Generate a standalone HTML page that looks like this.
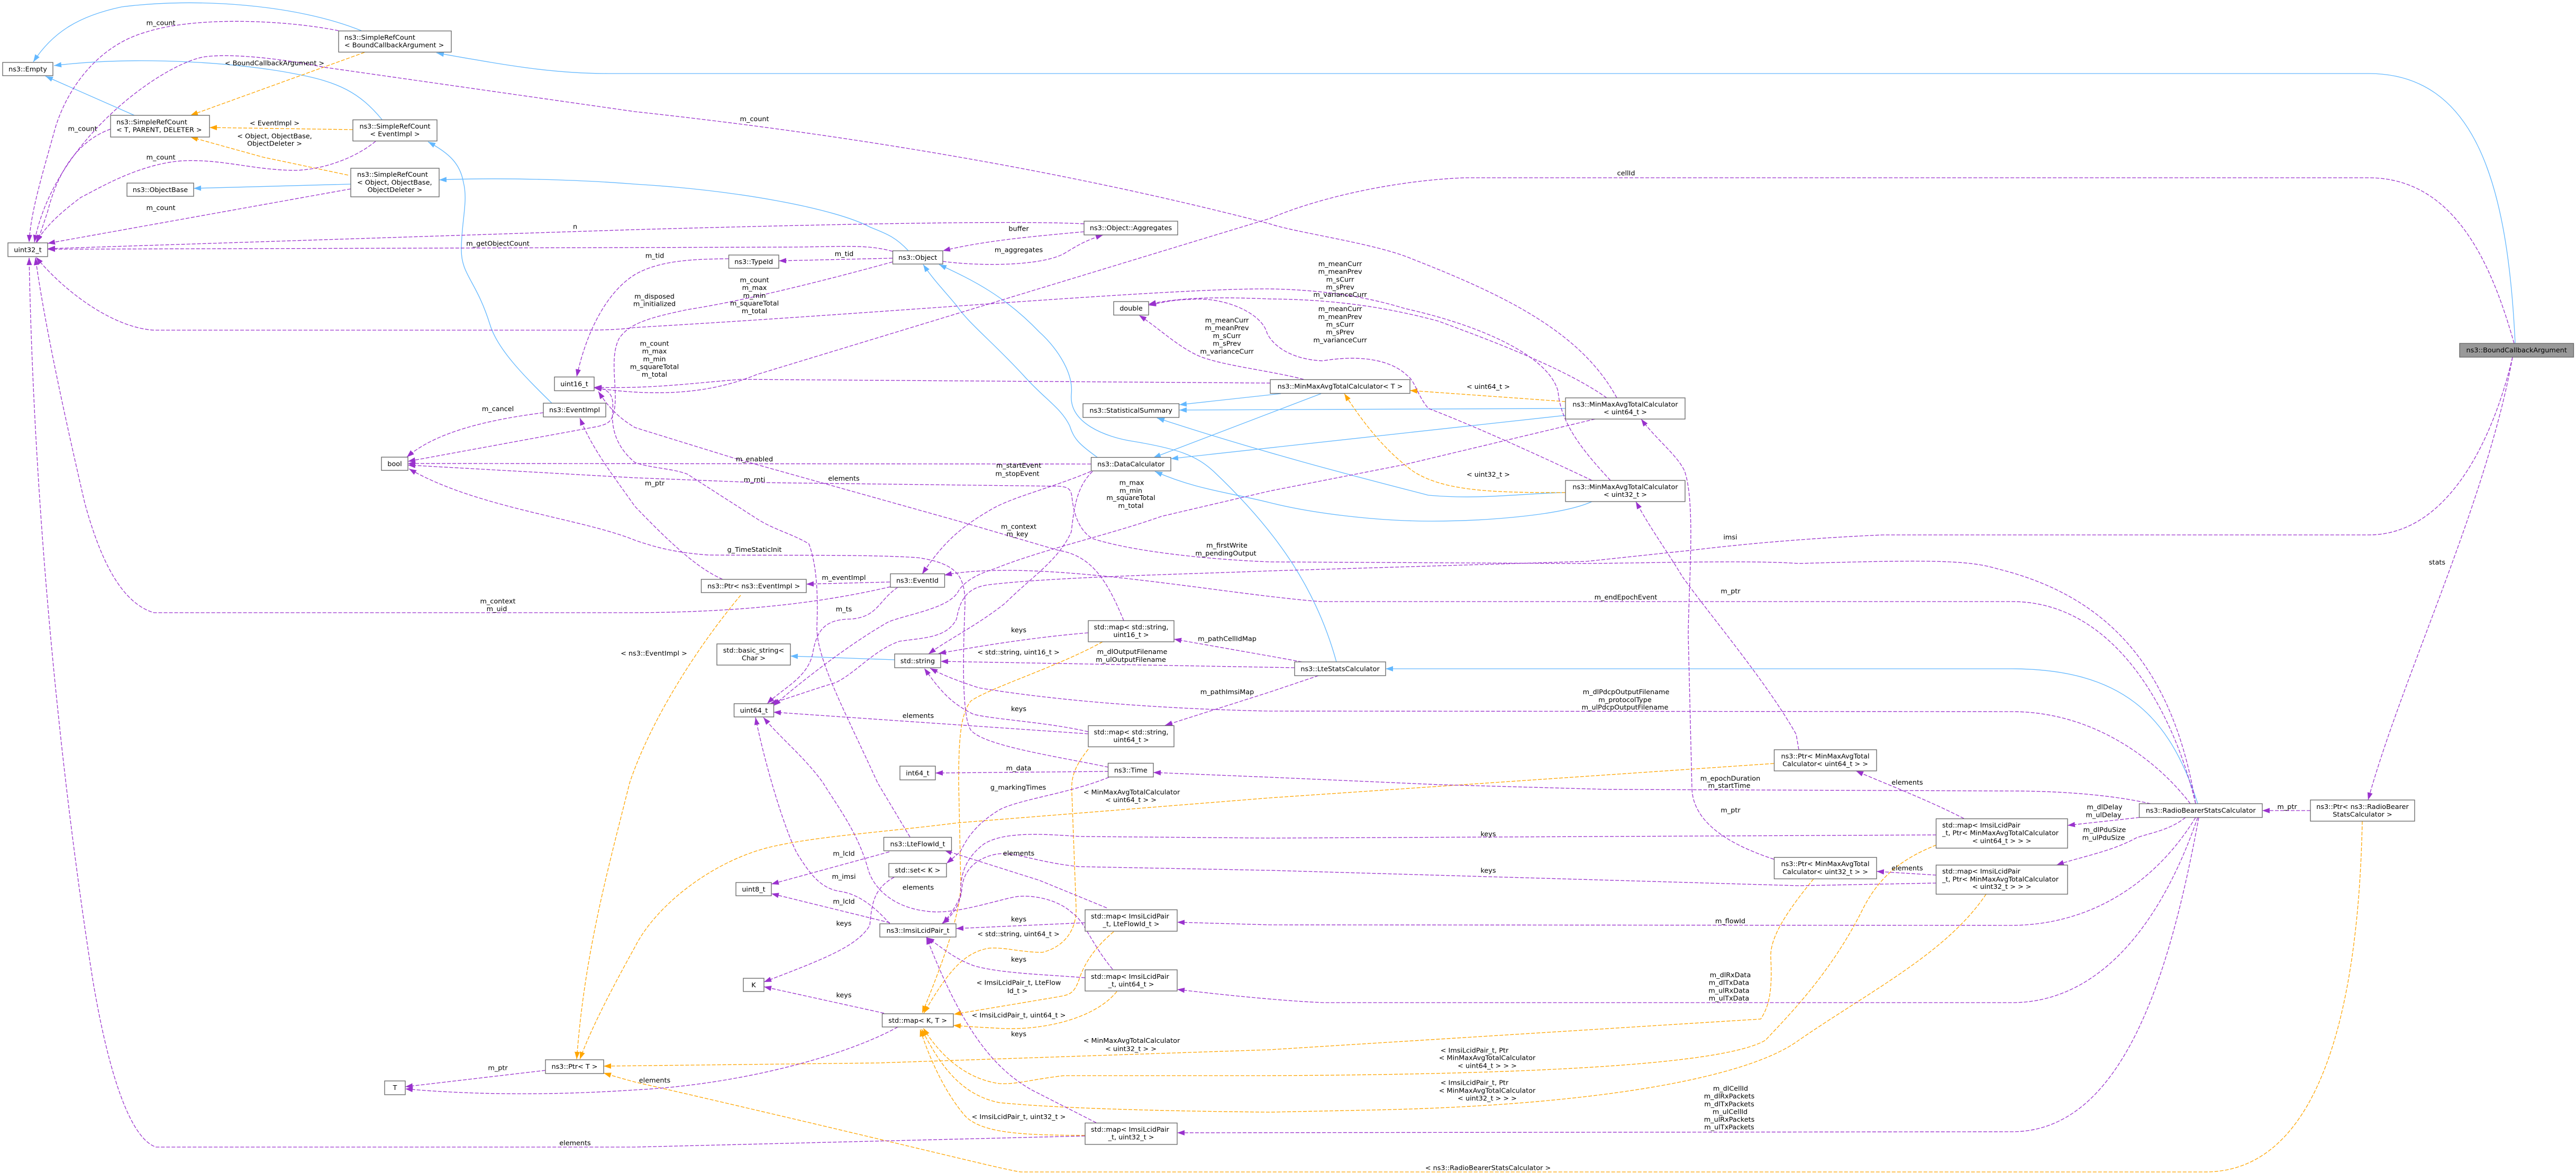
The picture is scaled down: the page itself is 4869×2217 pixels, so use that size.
<!DOCTYPE html>
<html><head><meta charset="utf-8"><title>ns3::BoundCallbackArgument</title>
<style>
html,body{margin:0;padding:0;background:#fff}
svg{display:block}
text{font-family:"DejaVu Sans","Liberation Sans",sans-serif;font-size:12.8px;fill:#000}
rect{fill:#fff;stroke:#666;stroke-width:1.33}
</style></head><body>
<svg xmlns="http://www.w3.org/2000/svg" width="4869" height="2217" viewBox="0 0 4869 2217">
<defs>
<marker id="mb" markerUnits="userSpaceOnUse" markerWidth="15" markerHeight="11" refX="14" refY="5" orient="auto"><path d="M0,0L14,5L0,10z" fill="#63b8ff"/></marker>
<marker id="mp" markerUnits="userSpaceOnUse" markerWidth="15" markerHeight="11" refX="14" refY="5" orient="auto"><path d="M0,0L14,5L0,10z" fill="#9a32cd"/></marker>
<marker id="mo" markerUnits="userSpaceOnUse" markerWidth="15" markerHeight="11" refX="14" refY="5" orient="auto"><path d="M0,0L14,5L0,10z" fill="#ffa500"/></marker>
</defs>
<rect x="0" y="0" width="4869" height="2217" style="fill:#fff;stroke:none"/>

<g fill="none" stroke="#63b8ff" stroke-width="1.33" marker-end="url(#mb)">
<path d="M4754,649C4740,350 4680,139 4477,139L1150,139C1040,139 950,122 825,100"/>
<path d="M683,58C560,8 370,-5 230,13C150,30 100,60 63,117"/>
<path d="M722,226C680,175 640,155 560,140C450,118 260,105 102,124"/>
<path d="M254,218L86,144"/>
<path d="M1043,762C990,710 940,660 926,613C900,530 872,520 872,472C872,420 885,380 876,345C870,310 850,290 809,268"/>
<path d="M1717,474C1690,445 1670,440 1644,429C1580,395 1400,360 1200,348C1100,340 950,335 830,340"/>
<path d="M663,348L366,356"/>
<path d="M2075,865C2040,840 2030,830 2022,805C2005,770 1975,755 1935,710C1880,650 1830,610 1810,580C1790,555 1765,530 1745,500"/>
<path d="M2526,1251C2490,1120 2420,1010 2294,891C2260,860 2225,848 2141,834C2090,826 2020,800 2025,745C2030,700 1990,650 1965,628C1900,560 1840,530 1775,500"/>
<path d="M2421,744L2229,765"/>
<path d="M2497,744L2180,865"/>
<path d="M2959,772L2229,775"/>
<path d="M2959,785L2213,867"/>
<path d="M2959,931C2880,932 2800,945 2700,936C2600,910 2400,860 2187,790"/>
<path d="M3009,948C2950,975 2800,985 2706,985C2600,985 2480,970 2400,950C2320,930 2260,925 2183,891"/>
<path d="M1691,1247L1494,1240"/>
<path d="M4154,1519C4100,1350 4010,1264 3800,1264L2619,1264"/>
</g>

<g fill="none" stroke="#ffa500" stroke-width="1.33" stroke-dasharray="7 3" marker-end="url(#mo)">
<path d="M689,99L360,218"/>
<path d="M667,245L396,241"/>
<path d="M658,331L497,297L360,259"/>
<path d="M2959,759L2665,738"/>
<path d="M2959,931C2830,931 2730,930 2670,890C2630,860 2590,820 2541,744"/>
<path d="M1400,1125C1320,1220 1230,1360 1190,1480C1150,1640 1105,1800 1090,2002"/>
<path d="M3353,1443L2400,1508L1812,1555C1650,1575 1550,1580 1460,1600C1350,1625 1240,1710 1200,1790C1150,1880 1115,1950 1096,2002"/>
<path d="M3428,1661C3380,1720 3345,1770 3347,1810C3350,1870 3345,1900 3328,1926L2400,1984L1660,2009L1141,2015"/>
<path d="M3660,1597C3590,1625 3550,1660 3520,1720C3460,1840 3380,1920 3337,1966C3280,2000 3050,2030 2400,2033L2011,2033C1950,2040 1920,2050 1889,2048C1830,2040 1780,2000 1745,1943"/>
<path d="M3754,1690C3680,1800 3540,1870 3400,1966C3300,2040 3000,2090 2591,2098L2400,2102C2200,2100 2000,2095 1889,2084C1820,2070 1780,2020 1742,1945"/>
<path d="M2051,2146C1950,2145 1860,2145 1825,2110C1790,2070 1760,2010 1739,1945"/>
<path d="M2084,1213C2000,1260 1870,1300 1835,1325C1815,1350 1812,1400 1812,1480L1816,1669C1816,1720 1790,1800 1743,1915"/>
<path d="M2057,1416C2030,1450 2024,1470 2026,1500L2034,1716C2035,1760 2010,1790 1970,1800C1930,1800 1900,1790 1870,1792C1820,1800 1790,1840 1746,1915"/>
<path d="M2105,1761C2070,1790 2050,1820 2040,1850C2030,1880 2020,1880 2000,1884L1803,1917"/>
<path d="M2111,1874C2070,1925 1970,1950 1880,1943Q1840,1941 1802,1938"/>
<path d="M4465,1552C4460,1800 4420,2215 4168,2215L1930,2215C1900,2212 1700,2160 1200,2045Q1170,2037 1141,2028"/>
</g>

<g fill="none" stroke="#9a32cd" stroke-width="1.33" stroke-dasharray="7 3" marker-end="url(#mp)">
<path d="M640,58C540,38 370,30 275,61C190,85 130,160 105,240C80,330 58,400 55,458"/>
<path d="M3056,752C2990,630 2850,560 2668,489C2600,460 2450,440 2400,423C2100,345 1700,265 1200,211L612,127C530,110 430,100 383,108C300,125 100,270 65,458"/>
<path d="M209,244C150,265 110,320 90,400C80,430 75,445 70,458"/>
<path d="M710,267C670,300 610,320 560,322C480,322 420,300 344,304C260,310 180,360 153,373C110,405 85,430 68,458"/>
<path d="M663,357L90,460"/>
<path d="M2049,423C1950,418 1700,420 1200,434L90,470"/>
<path d="M1687,475C1640,462 1600,466 1500,467L90,471"/>
<path d="M1687,488L1472,493"/>
<path d="M1377,489C1320,490 1250,490 1200,519C1150,550 1110,620 1090,712"/>
<path d="M1782,494C1840,502 1960,505 2010,480C2035,465 2050,455 2085,444"/>
<path d="M2049,438C1950,447 1860,455 1782,474"/>
<path d="M1687,495C1560,530 1400,570 1300,585C1230,600 1190,610 1170,640C1150,680 1170,740 1160,780C1155,800 1145,802 1130,806L771,872"/>
<path d="M3044,908C2990,850 2950,800 2945,740C2930,680 2820,620 2655,583C2580,560 2500,548 2400,546C2200,545 1700,590 1200,619C1180,622 1150,624 1100,624L291,624C220,620 130,560 68,486"/>
<path d="M3037,752C2950,690 2780,630 2719,607C2600,575 2500,566 2400,565C2320,562 2240,560 2171,575"/>
<path d="M3009,908C2950,880 2800,810 2700,772C2680,750 2675,720 2660,710C2630,680 2570,670 2500,682C2450,680 2410,660 2395,630C2385,590 2310,560 2250,566C2220,566 2195,572 2171,577"/>
<path d="M2464,717C2400,700 2300,690 2260,670C2220,650 2190,620 2153,596"/>
<path d="M2401,724L1400,717C1300,725 1230,735 1123,732"/>
<path d="M3015,792L2655,878L2400,928L2195,976C2100,1010 1965,1040 1880,1075C1830,1090 1815,1110 1810,1120C1790,1150 1720,1160 1680,1175C1600,1220 1500,1300 1462,1334"/>
<path d="M4752,649C4710,500 4640,336 4477,336L2770,336C2650,340 2500,370 2400,413L1430,708C1340,745 1240,750 1123,733"/>
<path d="M4749,675C4720,800 4640,1011 4477,1011L3559,1011C3400,1018 3280,1030 3197,1040L2999,1061L2400,1079C2250,1085 2000,1090 1870,1105C1830,1110 1815,1130 1808,1170C1790,1205 1750,1205 1700,1212C1650,1230 1620,1270 1580,1290C1530,1305 1490,1320 1455,1330"/>
<path d="M4749,675C4700,950 4540,1280 4476,1512"/>
<path d="M1697,1110C1660,1135 1660,1165 1610,1170C1560,1170 1545,1190 1537,1230C1530,1280 1480,1300 1450,1330"/>
<path d="M4367,1532L4276,1532"/>
<path d="M4044,1545L3908,1560"/>
<path d="M4131,1545C4100,1570 4060,1575 4037,1584C3990,1610 3930,1620 3887,1635"/>
<path d="M3712,1547C3640,1510 3560,1480 3508,1457"/>
<path d="M3660,1654L3547,1647"/>
<path d="M3660,1578L2400,1584L2042,1581C1980,1577 1900,1570 1860,1595C1820,1625 1815,1660 1816,1690C1810,1710 1795,1730 1782,1746"/>
<path d="M3660,1669L3400,1674L2400,1645L2040,1638C1960,1630 1920,1610 1885,1614C1840,1622 1820,1650 1818,1680C1815,1715 1795,1735 1780,1746"/>
<path d="M4150,1545C4080,1660 3960,1749 3800,1749L2400,1748L2225,1743"/>
<path d="M4154,1545C4080,1760 3960,1895 3803,1895L2502,1895C2450,1893 2350,1885 2225,1870"/>
<path d="M4156,1545C4100,1850 4010,2139 3803,2139L2225,2141"/>
<path d="M2072,2122L1950,2060C1880,2020 1820,1950 1751,1771"/>
<path d="M2051,2147L1200,2168L295,2168C240,2150 200,2000 175,1850C120,1500 65,1000 55,487"/>
<path d="M1683,1109C1550,1140 1400,1157 1200,1158L291,1158C230,1140 190,1060 160,950C130,820 85,620 67,487"/>
<path d="M2095,1450C2000,1430 1860,1410 1835,1380C1815,1350 1822,1200 1824,1141C1824,1090 1810,1065 1735,1054C1650,1048 1500,1050 1340,1049C1280,1045 1240,1035 1200,1021C1100,980 900,960 773,886"/>
<path d="M2062,877L771,876"/>
<path d="M4150,1519C4110,1280 4000,1130 3775,1075C3720,1058 3640,1058 3400,1065C3300,1058 3100,1065 2974,1065L2400,1062C2300,1058 2150,1045 2065,1018C2035,1000 2028,960 2026,938C2024,925 2020,920 2000,919L1430,912L1200,903L771,879"/>
<path d="M1720,1582L1659,1480C1600,1350 1545,1250 1544,1188C1545,1150 1548,1080 1529,1028C1500,1010 1460,1000 1430,980L1299,896C1270,885 1230,885 1200,874C1165,845 1155,810 1158,775C1160,750 1155,735 1123,732"/>
<path d="M2124,1173C2090,1090 2060,1050 2000,1040L1812,985L1391,867L1200,808C1170,790 1150,770 1131,740"/>
<path d="M1682,1746C1650,1710 1620,1690 1590,1685C1550,1680 1530,1650 1506,1612C1480,1560 1445,1440 1428,1356"/>
<path d="M2103,1832C2060,1780 2050,1740 2026,1725C2000,1700 1950,1690 1919,1695C1870,1705 1800,1730 1750,1722C1690,1715 1650,1680 1640,1640C1620,1570 1580,1520 1556,1480C1520,1430 1480,1400 1443,1356"/>
<path d="M1681,1610L1458,1671"/>
<path d="M1682,1744L1458,1689"/>
<path d="M1690,1658C1650,1680 1648,1710 1644,1749C1620,1790 1550,1815 1444,1856"/>
<path d="M1671,1915L1444,1865"/>
<path d="M1697,1941C1600,1995 1400,2050 1200,2060C1050,2070 900,2070 766,2058"/>
<path d="M1031,2023L766,2054"/>
<path d="M2096,1469C2020,1500 1930,1510 1890,1530C1840,1560 1825,1590 1815,1610L1789,1632"/>
<path d="M2095,1458L1768,1461"/>
<path d="M4065,1519C3980,1500 3880,1495 3800,1495L3038,1492L2719,1483L2400,1469L2180,1460"/>
<path d="M4150,1519C4110,1350 4000,1137 3803,1137L2496,1137C2340,1125 2100,1080 1912,1078C1860,1078 1820,1080 1785,1087"/>
<path d="M2062,891C1980,925 1910,940 1870,965C1810,1000 1780,1030 1743,1085"/>
<path d="M2065,891C2035,920 2030,960 2025,1005C2000,1060 1950,1090 1900,1140C1850,1180 1790,1210 1755,1236"/>
<path d="M2057,1196C1950,1205 1860,1220 1774,1235"/>
<path d="M2447,1262L1778,1250"/>
<path d="M2461,1251L2400,1240L2219,1208"/>
<path d="M2492,1277L2400,1308L2202,1371"/>
<path d="M4140,1519C4080,1440 3960,1345 3803,1345L2400,1344C2200,1340 2000,1325 1850,1300C1820,1290 1790,1280 1758,1263"/>
<path d="M2057,1383C1980,1365 1880,1360 1840,1350C1800,1330 1780,1310 1747,1263"/>
<path d="M2057,1387L1462,1346"/>
<path d="M1366,1095C1320,1075 1270,1030 1200,957C1160,900 1120,850 1096,790"/>
<path d="M1027,780C950,790 830,810 769,864"/>
<path d="M1682,1100L1524,1104"/>
<path d="M3353,1624C3280,1600 3200,1560 3198,1490L3191,1200C3192,1100 3205,950 3184,890C3170,860 3130,830 3102,792"/>
<path d="M3400,1417L3395,1388C3340,1290 3230,1160 3180,1090C3150,1040 3120,1000 3092,948"/>
<path d="M2092,1716L1965,1664L1785,1607"/>
<path d="M2051,1744L1807,1755"/>
<path d="M2051,1848C1980,1842 1890,1840 1840,1825C1800,1810 1780,1790 1752,1772"/>
</g>

<!-- nodes -->
<rect x="640" y="58.5" width="213" height="40"/><rect x="5" y="118" width="95" height="25"/>
<rect x="209" y="218" width="187" height="41"/><rect x="667" y="226.5" width="159" height="40"/>
<rect x="663" y="318" width="167" height="54"/><rect x="240" y="346" width="126" height="25"/>
<rect x="15" y="459" width="75" height="26"/><rect x="1048" y="712.5" width="75" height="26"/>
<rect x="2049" y="418" width="177" height="26"/><rect x="1687.5" y="474" width="94.5" height="25"/>
<rect x="1377.5" y="482" width="94.5" height="25"/><rect x="2105" y="570" width="66" height="25.5"/>
<rect x="2401" y="717.5" width="264" height="26"/><rect x="2959" y="752" width="226" height="40"/>
<rect x="2959" y="908" width="226" height="40"/>
<rect x="4649" y="649" width="215.5" height="26" style="fill:#999"/>
<rect x="1027" y="762" width="118" height="26"/><rect x="721" y="864" width="50" height="25"/>
<rect x="2047" y="763" width="181.5" height="26"/><rect x="2062.5" y="864.5" width="150.5" height="25.5"/>
<rect x="1325.5" y="1095" width="198.5" height="25"/><rect x="1683" y="1084.5" width="102.5" height="25.5"/>
<rect x="2057" y="1173" width="162" height="40"/><rect x="1355" y="1217" width="139" height="40"/>
<rect x="1691" y="1236" width="87" height="26"/><rect x="1387.5" y="1330" width="75" height="25"/>
<rect x="2057" y="1371.5" width="162" height="40"/><rect x="1701" y="1448" width="67" height="26"/>
<rect x="2094.5" y="1442.5" width="85.5" height="26"/><rect x="2447" y="1251" width="172" height="26"/>
<rect x="3353.5" y="1417" width="193.5" height="40"/><rect x="3353.5" y="1620.5" width="193.5" height="40.5"/>
<rect x="1670.5" y="1582.5" width="128" height="25.5"/><rect x="1680" y="1632" width="109" height="25.5"/>
<rect x="1391" y="1668" width="67" height="25"/><rect x="1663" y="1746" width="144" height="25"/>
<rect x="2051" y="1719.5" width="174" height="40.5"/><rect x="1405" y="1849" width="39" height="25"/>
<rect x="2051" y="1833" width="174" height="40"/><rect x="1667.5" y="1916" width="134.5" height="25"/>
<rect x="2051" y="2122.5" width="174" height="40.5"/><rect x="4043.5" y="1519" width="232.5" height="26"/>
<rect x="4367" y="1512" width="197" height="40"/><rect x="3659.5" y="1547.5" width="248.5" height="55.5"/>
<rect x="3659.5" y="1635" width="248.5" height="55"/><rect x="1031" y="2003" width="110" height="26"/>
<rect x="727" y="2043" width="39" height="26"/>

<!-- left aligned node text -->
<g>
<text x="651" y="75">ns3::SimpleRefCount</text><text x="651" y="89.5">&lt; BoundCallbackArgument &gt;</text>
<text x="220" y="235">ns3::SimpleRefCount</text><text x="220" y="249.5">&lt; T, PARENT, DELETER &gt;</text>
<text x="675" y="334">ns3::SimpleRefCount</text><text x="675" y="349">&lt; Object, ObjectBase,</text>
<text x="3671" y="1564">std::map&lt; ImsiLcidPair</text><text x="3671" y="1578.5">_t, Ptr&lt; MinMaxAvgTotalCalculator</text>
<text x="3671" y="1651">std::map&lt; ImsiLcidPair</text><text x="3671" y="1666">_t, Ptr&lt; MinMaxAvgTotalCalculator</text>
<text x="2062" y="1736">std::map&lt; ImsiLcidPair</text><text x="2062" y="1850">std::map&lt; ImsiLcidPair</text><text x="2062" y="2139">std::map&lt; ImsiLcidPair</text>
</g>

<g text-anchor="middle">
<text x="52.5" y="135">ns3::Empty</text>
<text x="746.5" y="243">ns3::SimpleRefCount</text><text x="746.5" y="257.5">&lt; EventImpl &gt;</text>
<text x="746.5" y="363">ObjectDeleter &gt;</text>
<text x="303" y="363">ns3::ObjectBase</text>
<text x="52.5" y="476.5">uint32_t</text><text x="1085.5" y="730">uint16_t</text>
<text x="2137.5" y="435">ns3::Object::Aggregates</text>
<text x="1734.7" y="491">ns3::Object</text><text x="1424.7" y="499">ns3::TypeId</text>
<text x="2138" y="587">double</text>
<text x="2533" y="734.5">ns3::MinMaxAvgTotalCalculator&lt; T &gt;</text>
<text x="3072" y="768.5">ns3::MinMaxAvgTotalCalculator</text><text x="3072" y="783">&lt; uint64_t &gt;</text>
<text x="3072" y="924.5">ns3::MinMaxAvgTotalCalculator</text><text x="3072" y="939">&lt; uint32_t &gt;</text>
<text x="4756.7" y="666">ns3::BoundCallbackArgument</text>
<text x="1086" y="779">ns3::EventImpl</text><text x="746" y="881">bool</text>
<text x="2137.7" y="780">ns3::StatisticalSummary</text><text x="2137.7" y="881.5">ns3::DataCalculator</text>
<text x="1424.7" y="1112">ns3::Ptr&lt; ns3::EventImpl &gt;</text><text x="1734" y="1101.5">ns3::EventId</text>
<text x="2138" y="1189.5">std::map&lt; std::string,</text><text x="2138" y="1204">uint16_t &gt;</text>
<text x="1424.5" y="1233.5">std::basic_string&lt;</text><text x="1424.5" y="1248">Char &gt;</text>
<text x="1734.5" y="1253.5">std::string</text><text x="1425" y="1347">uint64_t</text>
<text x="2138" y="1388">std::map&lt; std::string,</text><text x="2138" y="1402.5">uint64_t &gt;</text>
<text x="1734.5" y="1465.5">int64_t</text><text x="2137.3" y="1460">ns3::Time</text>
<text x="2533" y="1268.5">ns3::LteStatsCalculator</text>
<text x="3450" y="1433.5">ns3::Ptr&lt; MinMaxAvgTotal</text><text x="3450" y="1448">Calculator&lt; uint64_t &gt; &gt;</text>
<text x="3450" y="1637">ns3::Ptr&lt; MinMaxAvgTotal</text><text x="3450" y="1652">Calculator&lt; uint32_t &gt; &gt;</text>
<text x="1734.5" y="1599.5">ns3::LteFlowId_t</text><text x="1734.5" y="1649">std::set&lt; K &gt;</text>
<text x="1424.5" y="1685">uint8_t</text><text x="1735" y="1763">ns3::ImsiLcidPair_t</text>
<text x="2138" y="1750.5">_t, LteFlowId_t &gt;</text>
<text x="1424.5" y="1866">K</text><text x="2138" y="1864.5">_t, uint64_t &gt;</text>
<text x="1734.7" y="1933">std::map&lt; K, T &gt;</text><text x="2138" y="2153.5">_t, uint32_t &gt;</text>
<text x="4159.7" y="1536">ns3::RadioBearerStatsCalculator</text>
<text x="4465.5" y="1529">ns3::Ptr&lt; ns3::RadioBearer</text><text x="4465.5" y="1543.5">StatsCalculator &gt;</text>
<text x="3783.7" y="1593.5">&lt; uint64_t &gt; &gt; &gt;</text><text x="3783.7" y="1680">&lt; uint32_t &gt; &gt; &gt;</text>
<text x="1086" y="2020">ns3::Ptr&lt; T &gt;</text><text x="746.5" y="2060">T</text>
</g>

<!-- edge labels -->
<g text-anchor="middle">
<text x="304" y="47.5">m_count</text>
<text x="519" y="123.5">&lt; BoundCallbackArgument &gt;</text>
<text x="156" y="247.5">m_count</text>
<text x="519" y="237">&lt; EventImpl &gt;</text>
<text x="519" y="261.5">&lt; Object, ObjectBase,</text><text x="519" y="275.5">ObjectDeleter &gt;</text>
<text x="304" y="301.5">m_count</text><text x="304" y="397">m_count</text>
<text x="1087" y="432.5">n</text><text x="941" y="464.5">m_getObjectCount</text>
<text x="1426" y="229">m_count</text>
<text x="1925.5" y="436.5">buffer</text><text x="1925.5" y="476.5">m_aggregates</text>
<text x="1595.5" y="484">m_tid</text><text x="1237.5" y="487.5">m_tid</text>
<text x="1426" y="533.5">m_count</text><text x="1426" y="548">m_max</text><text x="1426" y="563">m_min</text><text x="1426" y="577.5">m_squareTotal</text><text x="1426" y="592">m_total</text>
<text x="1237" y="564.5">m_disposed</text><text x="1237" y="578.5">m_initialized</text>
<text x="1237" y="653.5">m_count</text><text x="1237" y="668">m_max</text><text x="1237" y="683">m_min</text><text x="1237" y="697.5">m_squareTotal</text><text x="1237" y="712">m_total</text>
<text x="2319" y="609.5">m_meanCurr</text><text x="2319" y="624">m_meanPrev</text><text x="2319" y="639">m_sCurr</text><text x="2319" y="653.5">m_sPrev</text><text x="2319" y="668.5">m_varianceCurr</text>
<text x="3073.5" y="331.5">cellId</text>
<text x="2533" y="503">m_meanCurr</text><text x="2533" y="517.5">m_meanPrev</text><text x="2533" y="532.5">m_sCurr</text><text x="2533" y="547">m_sPrev</text><text x="2533" y="561">m_varianceCurr</text>
<text x="2533" y="588">m_meanCurr</text><text x="2533" y="603">m_meanPrev</text><text x="2533" y="617.5">m_sCurr</text><text x="2533" y="632">m_sPrev</text><text x="2533" y="647">m_varianceCurr</text>
<text x="2813" y="735">&lt; uint64_t &gt;</text><text x="2813" y="901">&lt; uint32_t &gt;</text>
<text x="3270.5" y="1019.5">imsi</text>
<text x="941" y="777">m_cancel</text>
<text x="941" y="1140.5">m_context</text><text x="939" y="1155">m_uid</text>
<text x="1426" y="872">m_enabled</text>
<text x="1925.5" y="884">m_startEvent</text><text x="1923" y="899.5">m_stopEvent</text>
<text x="1426" y="911">m_rnti</text><text x="1595" y="908.5">elements</text><text x="1237.5" y="917.5">m_ptr</text>
<text x="2139" y="916.5">m_max</text><text x="2137.5" y="931.5">m_min</text><text x="2137.5" y="945">m_squareTotal</text><text x="2137.5" y="960">m_total</text>
<text x="1925.5" y="999.5">m_context</text><text x="1923" y="1013.5">m_key</text>
<text x="2319" y="1035">m_firstWrite</text><text x="2317" y="1050">m_pendingOutput</text>
<text x="1426" y="1043">g_TimeStaticInit</text>
<text x="1595" y="1096">m_eventImpl</text><text x="1595" y="1155.5">m_ts</text>
<text x="1925.5" y="1195">keys</text><text x="2319.5" y="1211.5">m_pathCellIdMap</text>
<text x="1925" y="1237">&lt; std::string, uint16_t &gt;</text>
<text x="2140" y="1236">m_dlOutputFilename</text><text x="2137.5" y="1251">m_ulOutputFilename</text>
<text x="1236" y="1239">&lt; ns3::EventImpl &gt;</text>
<text x="2319.5" y="1312">m_pathImsiMap</text>
<text x="1925.5" y="1344">keys</text><text x="1735.5" y="1357">elements</text>
<text x="1925.5" y="1456">m_data</text>
<text x="3271" y="1121.5">m_ptr</text><text x="3073" y="1133">m_endEpochEvent</text>
<text x="3073.5" y="1312">m_dlPdcpOutputFilename</text><text x="3071.5" y="1327">m_protocolType</text><text x="3071.5" y="1341">m_ulPdcpOutputFilename</text>
<text x="3270.5" y="1475.5">m_epochDuration</text><text x="3268.5" y="1489">m_startTime</text>
<text x="3271" y="1535.5">m_ptr</text>
<text x="4606.5" y="1067">stats</text>
<text x="1924.5" y="1492.5">g_markingTimes</text>
<text x="2139" y="1501.5">&lt; MinMaxAvgTotalCalculator</text><text x="2137.5" y="1516">&lt; uint64_t &gt; &gt;</text>
<text x="1595" y="1617.5">m_lcId</text><text x="1925.5" y="1617">elements</text>
<text x="1595" y="1661">m_imsi</text><text x="1735.5" y="1681.5">elements</text>
<text x="1595" y="1708">m_lcId</text><text x="1925.5" y="1741.5">keys</text><text x="1595" y="1749.5">keys</text>
<text x="1925" y="1769.5">&lt; std::string, uint64_t &gt;</text>
<text x="1925.5" y="1817.5">keys</text>
<text x="1925.5" y="1861.5">&lt; ImsiLcidPair_t, LteFlow</text><text x="1923" y="1877">Id_t &gt;</text>
<text x="1595" y="1885">keys</text>
<text x="1925.5" y="1923">&lt; ImsiLcidPair_t, uint64_t &gt;</text>
<text x="1925.5" y="1958.5">keys</text>
<text x="2139" y="1971">&lt; MinMaxAvgTotalCalculator</text><text x="2137.5" y="1986.5">&lt; uint32_t &gt; &gt;</text>
<text x="1237.5" y="2046">elements</text>
<text x="1925.5" y="2115">&lt; ImsiLcidPair_t, uint32_t &gt;</text>
<text x="2813" y="1580.5">keys</text><text x="2813" y="1649.5">keys</text>
<text x="3270.5" y="1745">m_flowId</text>
<text x="3270.5" y="1847">m_dlRxData</text><text x="3268" y="1861.5">m_dlTxData</text><text x="3268" y="1876.5">m_ulRxData</text><text x="3268" y="1891">m_ulTxData</text>
<text x="2787" y="1989.5">&lt; ImsiLcidPair_t, Ptr</text><text x="2811" y="2003.5">&lt; MinMaxAvgTotalCalculator</text><text x="2811" y="2018.5">&lt; uint64_t &gt; &gt; &gt;</text>
<text x="2787" y="2050.5">&lt; ImsiLcidPair_t, Ptr</text><text x="2811" y="2065.5">&lt; MinMaxAvgTotalCalculator</text><text x="2811" y="2080">&lt; uint32_t &gt; &gt; &gt;</text>
<text x="3271" y="2061.5">m_dlCellId</text><text x="3268.5" y="2076">m_dlRxPackets</text><text x="3268.5" y="2091">m_dlTxPackets</text><text x="3270" y="2105.5">m_ulCellId</text><text x="3268.5" y="2120">m_ulRxPackets</text><text x="3268.5" y="2134.5">m_ulTxPackets</text>
<text x="2812.5" y="2211.5">&lt; ns3::RadioBearerStatsCalculator &gt;</text>
<text x="3978" y="1529.5">m_dlDelay</text><text x="3976" y="1544.5">m_ulDelay</text>
<text x="3978" y="1572.5">m_dlPduSize</text><text x="3976" y="1587.5">m_ulPduSize</text>
<text x="3605" y="1645">elements</text><text x="3605" y="1483">elements</text>
<text x="4323" y="1529">m_ptr</text>
<text x="941" y="2022.5">m_ptr</text><text x="1087" y="2164.5">elements</text>
</g>
</svg>
</body></html>
